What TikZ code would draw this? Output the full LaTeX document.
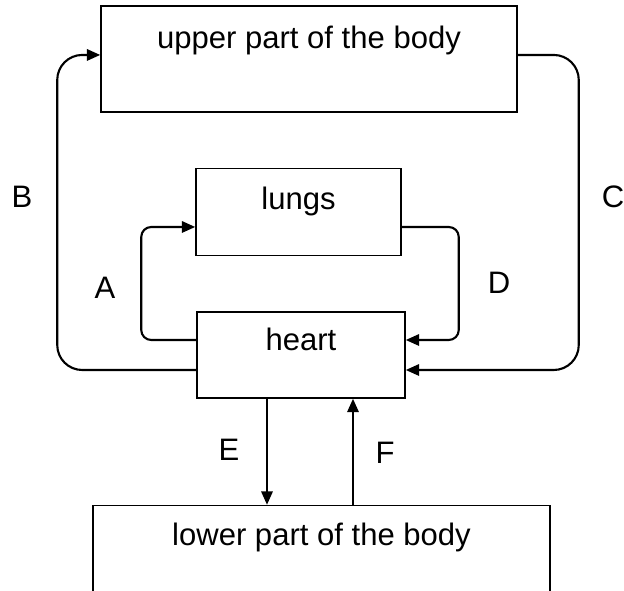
\documentclass[tikz,border=0pt]{standalone}
\usepackage{fontspec}
\setmainfont{Liberation Sans}
\usepackage{tikz}
\usetikzlibrary{arrows.meta,positioning,calc}
\tikzset{
    organ/.style={draw=black, line width=1.3pt, inner sep=0pt, text height=0.7cm, font=\fontsize{26.5}{31}\selectfont},
    flow/.style={-{Triangle[length=0.4cm, width=0.34cm]}, line width=1.8pt, black},
    tag/.style={font=\fontsize{26.5}{31}\selectfont, inner sep=0pt}
}

\begin{document}
\begin{tikzpicture}[
    node distance=1.65cm,
    body_box/.style={organ, minimum width=12.48cm, minimum height=3.18cm, text depth=1.32cm},
    lungs_box/.style={organ, minimum width=6.15cm, minimum height=2.61cm, text depth=0.87cm},
    heart_box/.style={organ, minimum width=6.24cm, minimum height=2.58cm, text depth=0.94cm},
    legs_box/.style={organ, minimum width=13.71cm, minimum height=2.64cm, text depth=0.94cm}
]
  \useasboundingbox (0,0) rectangle (18.72,-17.73);

  % Organs
  \node[heart_box] (heart) at (9.03,-10.65) {heart};
  \node[lungs_box, above=1.65cm of heart, xshift=-0.075cm] (lungs) {lungs};
  \node[body_box, above=1.65cm of lungs, xshift=0.315cm] (upper) {upper part of the body};
  \node[legs_box, below=3.18cm of heart, xshift=0.615cm] (lower) {lower part of the body};

  % Pulmonary loop
  \draw[flow, rounded corners=0.3cm] ([yshift=0.45cm]heart.west) -- ++(-1.65cm,0) |- ([yshift=-0.45cm]lungs.west);
  \draw[flow, rounded corners=0.3cm] ([yshift=-0.45cm]lungs.east) -- ++(1.71cm,0) |- ([yshift=0.45cm]heart.east);

  % Upper body loop
  \draw[flow, rounded corners=0.75cm] ([yshift=-0.45cm]heart.west) -- ++(-4.17cm,0) |- ([yshift=0.12cm]upper.west);
  \draw[flow, rounded corners=0.75cm] ([yshift=0.12cm]upper.east) -- ++(1.83cm,0) |- ([yshift=-0.45cm]heart.east);

  % Lower body
  \draw[flow] ([xshift=-1.02cm]heart.south) -- ([xshift=-1.02cm]heart.south |- lower.north);
  \draw[flow] ([xshift=1.56cm]heart.south |- lower.north) -- ([xshift=1.56cm]heart.south);

  % Vessel letters
  \node[tag] (labA) at (3.15,-8.64) {A};
  \node[tag] (labB) at (0.66,-5.91) {B};
  \node[tag] (labC) at (18.39,-5.91) {C};
  \node[tag] (labD) at (14.97,-8.49) {D};
  \node[tag] (labE) at (6.87,-13.5) {E};
  \node[tag] (labF) at (11.55,-13.59) {F};

\end{tikzpicture}
\end{document}
